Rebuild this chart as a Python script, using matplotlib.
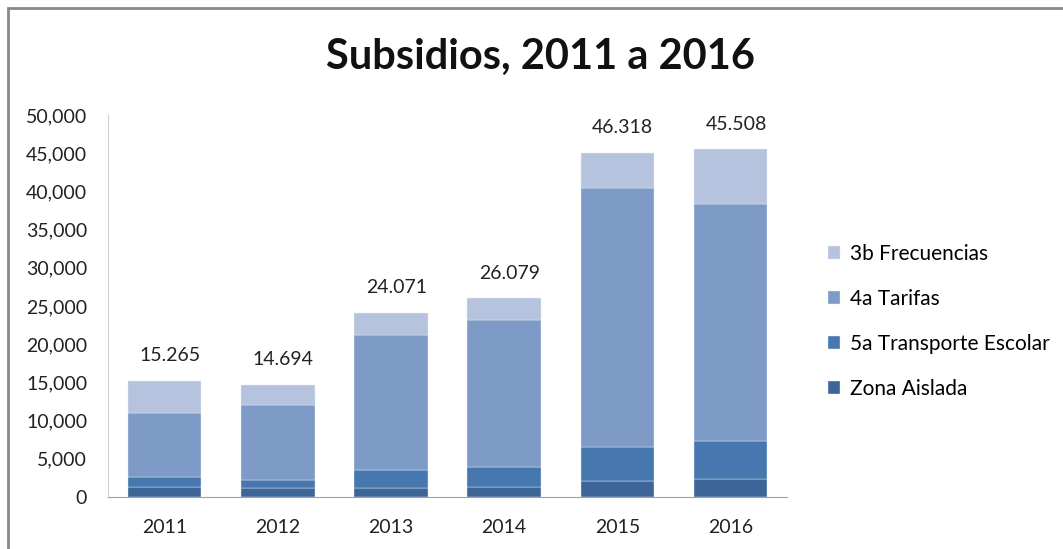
import numpy as np
import matplotlib.pyplot as plt
from matplotlib.patches import Rectangle
from matplotlib.ticker import FuncFormatter

plt.rcParams['font.family'] = ['Lato', 'DejaVu Sans']

# datos (valores estimados del grafico)
years = ['2011', '2012', '2013', '2014', '2015', '2016']
zona_aislada = [1310, 1180, 1180, 1310, 2090, 2400]
transporte_escolar = [1270, 1090, 2350, 2660, 4450, 4970]
tarifas = [8420, 9730, 17670, 19230, 33960, 30930]
frecuencias = [4200, 2700, 2900, 2800, 4570, 7200]
total_labels = ['15.265', '14.694', '24.071', '26.079', '46.318', '45.508']

series = [
    ('Zona Aislada', zona_aislada, '#3d6597'),
    ('5a Transporte Escolar', transporte_escolar, '#4677af'),
    ('4a Tarifas', tarifas, '#7e9bc7'),
    ('3b Frecuencias', frecuencias, '#b6c3de'),
]

fig = plt.figure(figsize=(10.63, 5.49), dpi=100)
ax = fig.add_axes([0.1016, 0.0947, 0.6388, 0.6958])

x = np.arange(len(years))
bottom = np.zeros(len(years))
handles = []
for name, vals, color in series:
    b = ax.bar(x, vals, width=0.65, bottom=bottom, color=color, label=name,
               edgecolor='#e8ecf4', linewidth=0.3)
    handles.append(b)
    bottom += np.array(vals)

# etiquetas de total
for xi, top, lab in zip(x, bottom, total_labels):
    ax.annotate(lab, (xi, top), xytext=(4, 18), textcoords='offset points',
                ha='center', va='center', fontsize=14, color='#222222')

ax.set_xlim(-0.5, 5.5)
ax.set_ylim(0, 50000)
ax.set_yticks(np.arange(0, 50001, 5000))
ax.yaxis.set_major_formatter(FuncFormatter(lambda v, p: f'{int(v):,}'))
ax.set_xticks(x)
ax.set_xticklabels(years)
ax.tick_params(axis='both', length=0, labelsize=14, colors='#222222')
ax.tick_params(axis='y', pad=15)
ax.tick_params(axis='x', pad=16)
for s in ['top', 'right']:
    ax.spines[s].set_visible(False)
ax.spines['left'].set_color('#d0d0d0')
ax.spines['bottom'].set_color('#a0a0a0')

fig.text(0.508, 0.897, 'Subsidios, 2011 a 2016', ha='center', va='center',
         fontsize=30, fontweight='bold', color='#111111')

fig.legend(handles[::-1], [s[0] for s in series][::-1], loc='center left',
           bbox_to_anchor=(0.761, 0.415), frameon=False, fontsize=15,
           handlelength=0.6, handleheight=0.6, handletextpad=0.45,
           labelspacing=1.2)

# marco del grafico
fig.patches.append(Rectangle((8 / 1063, -0.1), 1.2, 1.1 - 8 / 549,
                             transform=fig.transFigure, fill=False,
                             edgecolor='#888888', linewidth=2))

fig.savefig('out.png', dpi=100)
